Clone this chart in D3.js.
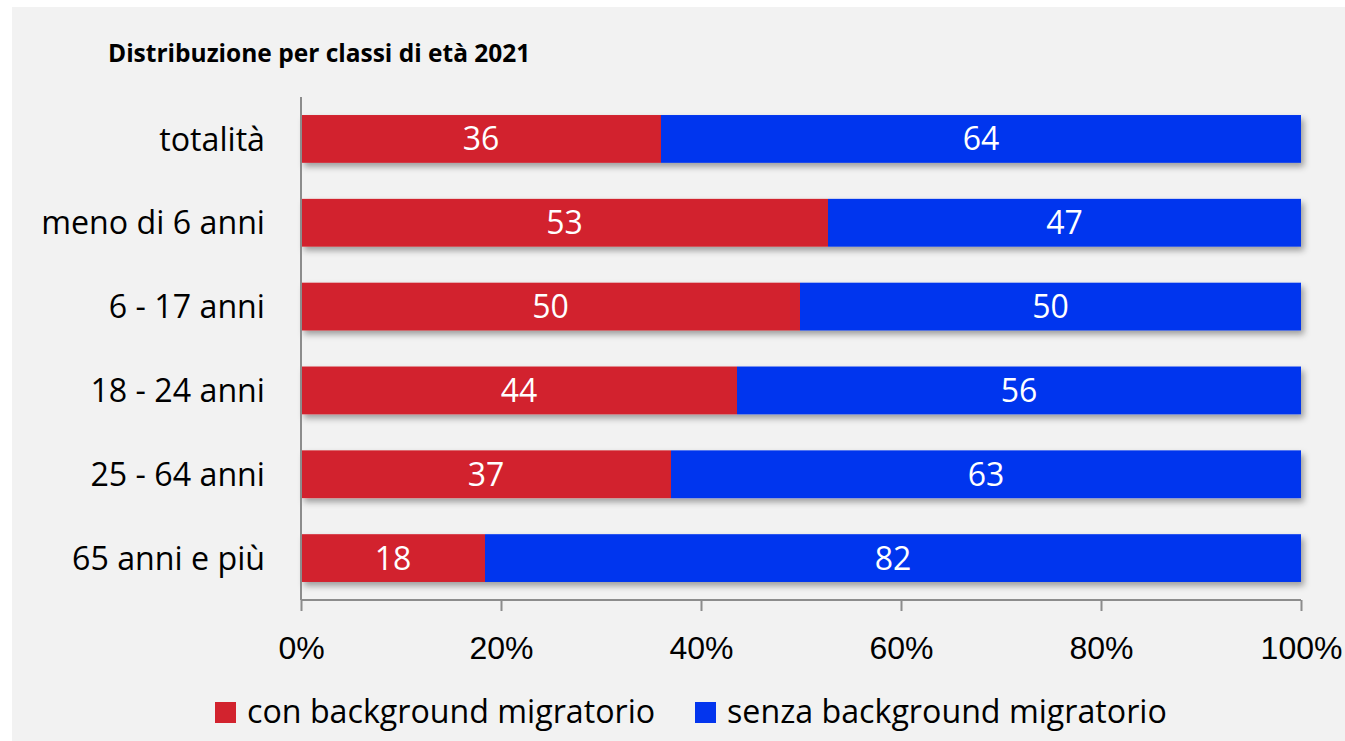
<!DOCTYPE html>
<html lang="it">
<head>
<meta charset="utf-8">
<script src="https://cdn.jsdelivr.net/npm/d3@7"></script>
<style>
  html, body { margin: 0; padding: 0; background: #ffffff; }
  svg { display: block; font-family: "Open Sans", "Noto Sans", sans-serif; }
  .axis-line { stroke: #8c8c8c; stroke-width: 2; }
  .cat-label { font-size: 32.2px; fill: #000; }
  .tick-label { font-size: 32px; fill: #000; }
  .val-label { font-size: 32px; fill: #fff; }
  .legend-label { font-size: 32.2px; fill: #000; }
  .title { font-size: 24.5px; font-weight: 700; fill: #000; }
</style>
</head>
<body>
<div id="chart"></div>
<script>
const categories = ['totalità', 'meno di 6 anni', '6 - 17 anni', '18 - 24 anni', '25 - 64 anni', '65 anni e più'];
const conBackground = [36.0, 52.7, 49.9, 43.6, 37.0, 18.4];
const senzaBackground = [64.0, 47.3, 50.1, 56.4, 63.0, 81.6];
const seriesNames = ['con background migratorio', 'senza background migratorio'];
const xTicks = [0, 20, 40, 60, 80, 100];
const titleText = 'Distribuzione per classi di età 2021';

const W = 1345, H = 741;
const colors = ['#d2232e', '#0335ee'];

const svg = d3.select('#chart').append('svg')
  .attr('width', W).attr('height', H);

const defs = svg.append('defs');
const shadow = defs.append('filter')
  .attr('id', 'bar-shadow')
  .attr('x', '-5%').attr('y', '-30%')
  .attr('width', '110%').attr('height', '170%');
shadow.append('feDropShadow')
  .attr('dx', 3).attr('dy', 4)
  .attr('stdDeviation', 3)
  .attr('flood-color', '#000')
  .attr('flood-opacity', 0.35);

// panel background
svg.append('rect')
  .attr('x', 12).attr('y', 7)
  .attr('width', W - 12).attr('height', H - 7)
  .attr('fill', '#f2f2f2');

svg.append('text')
  .attr('class', 'title')
  .attr('x', 108).attr('y', 62)
  .text(titleText);

const x = d3.scaleLinear().domain([0, 100]).range([301, 1301]);
const y = d3.scaleBand().domain(categories).range([97, 600])
  .paddingInner(0.43).paddingOuter(0.215);

const rows = categories.map((c, i) => ({
  cat: c,
  parts: [
    { key: 0, x0: 0, x1: conBackground[i], v: conBackground[i] },
    { key: 1, x0: conBackground[i], x1: conBackground[i] + senzaBackground[i], v: senzaBackground[i] }
  ]
}));

const barG = svg.append('g');
const rowG = barG.selectAll('g.row')
  .data(rows)
  .enter()
  .append('g')
  .attr('class', 'row')
  .attr('filter', 'url(#bar-shadow)');

rowG.selectAll('rect')
  .data(d => d.parts.map(p => ({ ...p, cat: d.cat })))
  .enter()
  .append('rect')
  .attr('x', d => x(d.x0))
  .attr('y', d => y(d.cat))
  .attr('width', d => x(d.x1) - x(d.x0))
  .attr('height', y.bandwidth())
  .attr('fill', d => colors[d.key]);

const fmt = d3.format('.0f');
barG.selectAll('g.vals')
  .data(rows)
  .enter()
  .append('g')
  .selectAll('text')
  .data(d => d.parts.map(p => ({ ...p, cat: d.cat })))
  .enter()
  .append('text')
  .attr('class', 'val-label')
  .attr('x', d => (x(d.x0) + x(d.x1)) / 2)
  .attr('y', d => y(d.cat) + y.bandwidth() / 2)
  .attr('dy', '0.36em')
  .attr('text-anchor', 'middle')
  .text(d => fmt(d.v));

// category labels
svg.append('g')
  .selectAll('text')
  .data(categories)
  .enter()
  .append('text')
  .attr('class', 'cat-label')
  .attr('x', 265)
  .attr('y', d => y(d) + y.bandwidth() / 2)
  .attr('dy', '0.36em')
  .attr('text-anchor', 'end')
  .text(d => d);

// vertical axis line
svg.append('line')
  .attr('class', 'axis-line')
  .attr('x1', 301).attr('x2', 301)
  .attr('y1', 97).attr('y2', 600);

// x axis
const xAxis = d3.axisBottom(x)
  .tickValues(xTicks)
  .tickSize(11)
  .tickPadding(12)
  .tickFormat(d => d + '%');

const xg = svg.append('g')
  .attr('transform', 'translate(0,600)')
  .call(xAxis);
xg.select('.domain').attr('class', 'axis-line').attr('d', `M${x(0)},0H${x(100)}`);
xg.selectAll('.tick line').attr('stroke', '#8c8c8c').attr('stroke-width', 2);
xg.selectAll('.tick text')
  .attr('class', 'tick-label')
  .attr('font-family', null)
  .attr('font-size', null)
  .attr('dy', null)
  .attr('y', 59);

// legend
const legendItems = [
  { name: seriesNames[0], color: colors[0], x: 215 },
  { name: seriesNames[1], color: colors[1], x: 695 }
];
const lg = svg.append('g').selectAll('g')
  .data(legendItems)
  .enter()
  .append('g')
  .attr('transform', d => `translate(${d.x},702)`);
lg.append('rect')
  .attr('width', 21).attr('height', 21)
  .attr('fill', d => d.color);
lg.append('text')
  .attr('class', 'legend-label')
  .attr('x', 32).attr('y', 21)
  .text(d => d.name);
</script>
</body>
</html>
